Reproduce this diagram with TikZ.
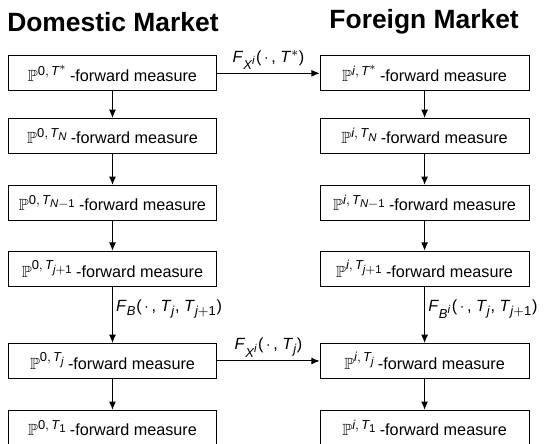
\documentclass[tikz,border=0pt]{standalone}
\usepackage{amsmath,amssymb}
\usepackage{fontspec}
\setmainfont{Liberation Sans}
\usetikzlibrary{arrows.meta,positioning}
\DeclareMathSizes{10}{10}{8}{7}

\newcommand{\vt}[1]{\textit{#1}}

\begin{document}
\begin{tikzpicture}[x=1cm,y=1cm]
\tikzset{
  measbox/.style={rectangle,draw=black,line width=0.6pt,minimum width=4.53cm,minimum height=0.76cm,inner sep=1pt,font=\fontsize{10}{12}\selectfont},
  headline/.style={font=\fontsize{16.3}{19}\selectfont\bfseries,inner sep=0pt},
  flow/.style={draw=black,line width=0.6pt,-{Latex[length=1.8mm,width=1.5mm]}},
  flowlabel/.style={font=\fontsize{10}{12}\selectfont,inner sep=2pt}
}
\useasboundingbox (0,0) rectangle (11.80,-9.63);
\node[headline] (t_D) at (2.45,-0.48) {Domestic Market};
\node[headline] (t_F) at (9.20,-0.48) {Foreign Market};
\node[measbox] (n_D0) at (2.44,-1.59) {$\mathbb{P}^{\textup{0},\,\vt{T}^{*}}$\,-forward measure};
\node[measbox] (n_D1) at (2.44,-2.95) {$\mathbb{P}^{\textup{0},\,\vt{T}_{\vt{N}}}$\,-forward measure};
\node[measbox] (n_D2) at (2.44,-4.40) {$\mathbb{P}^{\textup{0},\,\vt{T}_{\vt{N}-\textup{1}}}$\,-forward measure};
\node[measbox] (n_D3) at (2.44,-5.83) {$\mathbb{P}^{\textup{0},\,\vt{T}_{\vt{j}+\textup{1}}}$\,-forward measure};
\node[measbox] (n_D4) at (2.44,-7.83) {$\mathbb{P}^{\textup{0},\,\vt{T}_{\vt{j}}}$\,-forward measure};
\node[measbox] (n_D5) at (2.44,-9.28) {$\mathbb{P}^{\textup{0},\,\vt{T}_{\textup{1}}}$\,-forward measure};
\node[measbox] (n_F0) at (9.21,-1.59) {$\mathbb{P}^{\vt{i},\,\vt{T}^{*}}$\,-forward measure};
\node[measbox] (n_F1) at (9.21,-2.95) {$\mathbb{P}^{\vt{i},\,\vt{T}_{\vt{N}}}$\,-forward measure};
\node[measbox] (n_F2) at (9.21,-4.40) {$\mathbb{P}^{\vt{i},\,\vt{T}_{\vt{N}-\textup{1}}}$\,-forward measure};
\node[measbox] (n_F3) at (9.21,-5.83) {$\mathbb{P}^{\vt{i},\,\vt{T}_{\vt{j}+\textup{1}}}$\,-forward measure};
\node[measbox] (n_F4) at (9.21,-7.83) {$\mathbb{P}^{\vt{i},\,\vt{T}_{\vt{j}}}$\,-forward measure};
\node[measbox] (n_F5) at (9.21,-9.28) {$\mathbb{P}^{\vt{i},\,\vt{T}_{\textup{1}}}$\,-forward measure};
\draw[flow] (n_D0) -- (n_D1);
\draw[flow] (n_D1) -- (n_D2);
\draw[flow] (n_D2) -- (n_D3);
\draw[flow] (n_D3) -- node[right,flowlabel,pos=0.4] {\vt{F}$_{\vt{B}}$(\,$\cdot$\,, \vt{T}$_{\vt{j}}$, \vt{T}$_{\vt{j}+\textup{1}}$)} (n_D4);
\draw[flow] (n_D4) -- (n_D5);
\draw[flow] (n_F0) -- (n_F1);
\draw[flow] (n_F1) -- (n_F2);
\draw[flow] (n_F2) -- (n_F3);
\draw[flow] (n_F3) -- node[right,flowlabel,pos=0.4] {\vt{F}$_{\vt{B}^{\vt{i}}}$(\,$\cdot$\,, \vt{T}$_{\vt{j}}$, \vt{T}$_{\vt{j}+\textup{1}}$)} (n_F4);
\draw[flow] (n_F4) -- (n_F5);
\draw[flow] (n_D0) -- node[above,flowlabel] {\vt{F}$_{\vt{X}^{\vt{i}}}$(\,$\cdot$\,, \vt{T}$^{*}$)} (n_F0);
\draw[flow] (n_D4) -- node[above,flowlabel] {\vt{F}$_{\vt{X}^{\vt{i}}}$(\,$\cdot$\,, \vt{T}$_{\vt{j}}$)} (n_F4);
\end{tikzpicture}
\end{document}
